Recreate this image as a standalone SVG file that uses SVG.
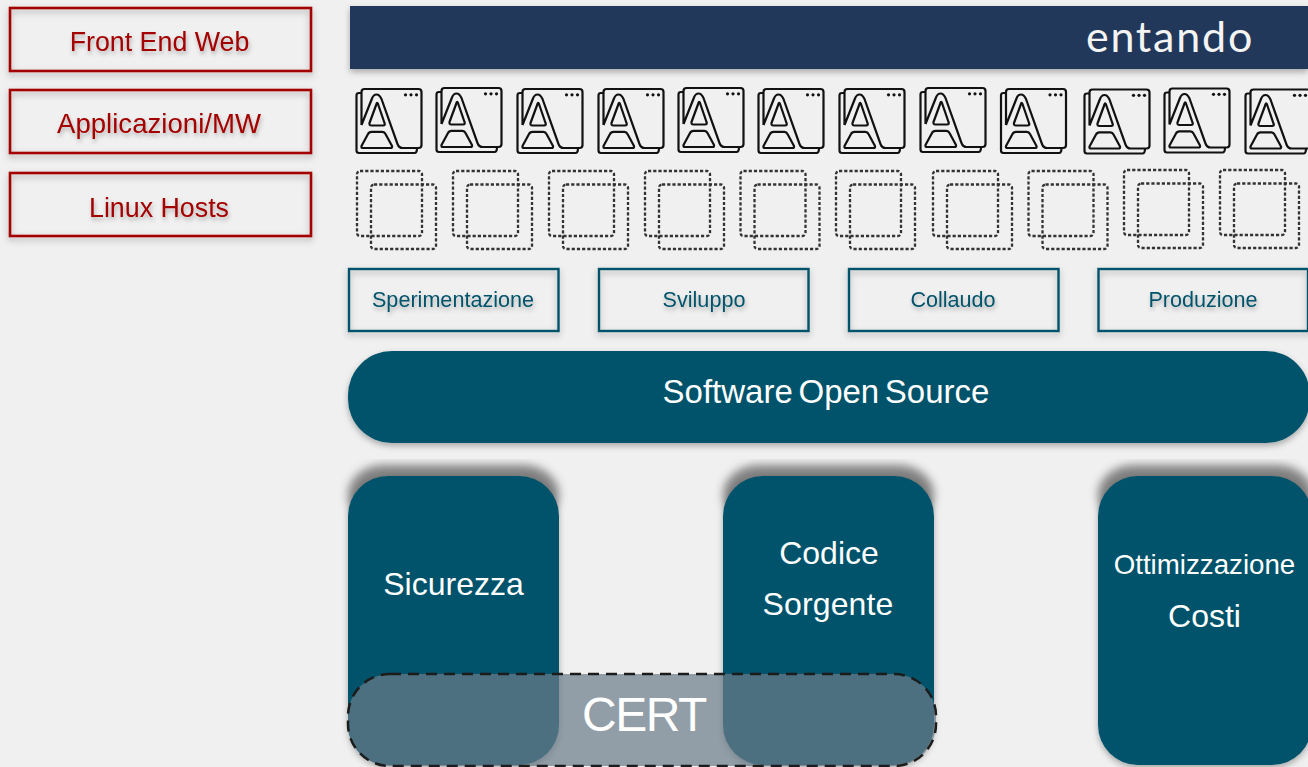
<svg xmlns="http://www.w3.org/2000/svg" width="1308" height="767" viewBox="0 0 1308 767">
<style>
text{font-family:"Liberation Sans",Arial,sans-serif;text-anchor:middle}
.red rect{fill:none;stroke:#a30000;stroke-width:2.6}
.red text{fill:#a30000;font-size:27.6px}
.env rect{fill:none;stroke:#00536a;stroke-width:2.4}
.env text{fill:#00536a;font-size:21.6px}
.tile{fill:#00536a}
.w{fill:#fff}
.ic{fill:none;stroke:#111;stroke-width:2.2;stroke-linejoin:round}
.ds{fill:none;stroke:#333;stroke-width:2.3;stroke-dasharray:3.2 2}
</style>
<defs>
<filter id="sh" x="-10%" y="-30%" width="120%" height="170%"><feDropShadow dx="0" dy="3" stdDeviation="3" flood-color="#000" flood-opacity=".3"/></filter>
<filter id="ts" x="-10%" y="-30%" width="120%" height="170%"><feDropShadow dx="1" dy="3" stdDeviation="2.2" flood-color="#000" flood-opacity=".28"/></filter>
<filter id="bl" x="-10%" y="-10%" width="120%" height="120%"><feGaussianBlur stdDeviation="5"/></filter>
<g id="app">
<path class="ic" d="M5 4H2.500Q0 4 0 6.500V61.500Q0 64 2.500 64H58Q60.500 64 60.500 59"/>
<path class="ic" d="M5 36V3Q5 0 8 0H62Q65 0 65 3V56Q65 59 62 59H46Q42.500 59 41 55L25 10Q23 5.500 20 5.500Q17 5.500 15.500 9.500L5 36"/>
<path class="ic" d="M20 15L13 34Q12.500 36.500 15 36.500H26.500Q29 36.500 28 34L21.500 15Q20.500 12.500 20 15Z"/>
<path class="ic" d="M15 42.800H26Q28 42.800 29 45L35.500 57Q36 59 34 59H6.500Q4.500 59 5 57L11.500 45Q12.500 42.800 15 42.800Z"/>
<g fill="#111"><circle cx="49" cy="5.800" r="1.600"/><circle cx="54.500" cy="5.800" r="1.600"/><circle cx="60" cy="5.800" r="1.600"/></g>
</g>
<g id="dup">
<rect class="ds" x="0" y="0" width="65" height="65" rx="3"/>
<rect class="ds" x="14" y="13.500" width="65" height="64.500" rx="3"/>
</g>
</defs>
<rect width="1308" height="767" fill="#f0f0f0"/>

<g id="layer-labels" class="red">
<g id="front-end-web"><rect x="10" y="8" width="301" height="63" filter="url(#sh)"/>
<text x="159.500" y="51" filter="url(#ts)" style="font-size:26.8px">Front End Web</text></g>
<g id="applicazioni-mw"><rect x="10" y="90" width="301" height="63" filter="url(#sh)"/>
<text x="159" y="133" filter="url(#ts)">Applicazioni/MW</text></g>
<g id="linux-hosts"><rect x="10" y="173" width="301" height="63" filter="url(#sh)"/>
<text x="159" y="217" filter="url(#ts)" style="font-size:26.8px">Linux Hosts</text></g>
</g>

<g id="entando-bar">
<rect x="350" y="6" width="958" height="63" fill="#22395a" filter="url(#sh)"/>
<text x="1170" y="52" fill="#f4f4f4" style="font-family:'Lato',sans-serif;font-size:43px;letter-spacing:1.800px">entando</text>
</g>

<g id="apps">
<use href="#app" x="356.500" y="89"/>
<use href="#app" x="436.500" y="88"/>
<use href="#app" x="517.500" y="89"/>
<use href="#app" x="598.500" y="89"/>
<use href="#app" x="678.500" y="88"/>
<use href="#app" x="758.500" y="89"/>
<use href="#app" x="839.500" y="89"/>
<use href="#app" x="920.500" y="88"/>
<use href="#app" x="1001" y="89"/>
<use href="#app" x="1084.500" y="89.500"/>
<use href="#app" x="1164.500" y="88.500"/>
<use href="#app" x="1245.500" y="89.500"/>
</g>

<g id="containers">
<use href="#dup" x="357" y="171"/>
<use href="#dup" x="453" y="171"/>
<use href="#dup" x="549" y="171"/>
<use href="#dup" x="645" y="171"/>
<use href="#dup" x="740.500" y="171"/>
<use href="#dup" x="836" y="171"/>
<use href="#dup" x="933" y="171"/>
<use href="#dup" x="1028.500" y="171"/>
<use href="#dup" x="1124" y="170"/>
<use href="#dup" x="1220" y="170"/>
</g>

<g id="environments" class="env">
<g id="sperimentazione"><rect x="349" y="269" width="209.500" height="62" filter="url(#sh)"/><text x="453" y="307" filter="url(#ts)">Sperimentazione</text></g>
<g id="sviluppo"><rect x="599" y="269" width="209.500" height="62" filter="url(#sh)"/><text x="704" y="307" filter="url(#ts)">Sviluppo</text></g>
<g id="collaudo"><rect x="849" y="269" width="209.500" height="62" filter="url(#sh)"/><text x="953" y="307" filter="url(#ts)">Collaudo</text></g>
<g id="produzione"><rect x="1098.500" y="269" width="209.500" height="62" filter="url(#sh)"/><text x="1203" y="307" filter="url(#ts)">Produzione</text></g>
</g>

<g id="software-opensource">
<rect class="tile" x="348" y="351" width="962" height="92" rx="44" filter="url(#sh)"/>
<text class="w" x="826" y="403" font-size="33" word-spacing="-3.500">Software Open Source</text>
</g>

<g id="sicurezza">
<rect x="348" y="465" width="211" height="60" rx="36" fill="#444" opacity=".65" filter="url(#bl)"/>
<rect class="tile" x="348" y="476" width="211" height="289" rx="40" filter="url(#sh)"/>
<text class="w" x="453.500" y="595" font-size="32">Sicurezza</text>
</g>
<g id="codice-sorgente">
<rect x="723" y="465" width="211" height="60" rx="36" fill="#444" opacity=".65" filter="url(#bl)"/>
<rect class="tile" x="723" y="476" width="211" height="289" rx="40" filter="url(#sh)"/>
<text class="w" x="829" y="564" font-size="32">Codice</text>
<text class="w" x="828" y="615" font-size="32" letter-spacing=".15">Sorgente</text>
</g>
<g id="ottimizzazione-costi">
<rect x="1098" y="465" width="215" height="60" rx="36" fill="#444" opacity=".65" filter="url(#bl)"/>
<rect class="tile" x="1098" y="476" width="214" height="289" rx="40" filter="url(#sh)"/>
<text class="w" x="1204.500" y="574" font-size="27.700">Ottimizzazione</text>
<text class="w" x="1204.500" y="627" font-size="32">Costi</text>
</g>

<g id="cert">
<rect x="348" y="674" width="588" height="92" rx="42" fill="#6b7c89" fill-opacity=".71" stroke="#1c1c1c" stroke-width="2.500" stroke-dasharray="11 7"/>
<text class="w" x="644" y="731" font-size="48" letter-spacing="-1.500">CERT</text>
</g>
</svg>
